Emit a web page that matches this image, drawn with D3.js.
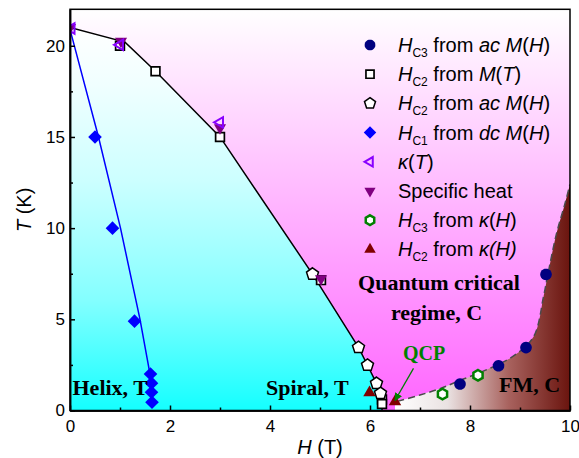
<!DOCTYPE html>
<html>
<head>
<meta charset="utf-8">
<script src="https://cdn.jsdelivr.net/npm/d3@7"></script>
<style>
body { margin: 0; background: #fff; }
</style>
</head>
<body>
<div id="chart"></div>
<script>
// data: [H (T), T (K)]
var hc3AcMH = [[7.8, 1.45], [8.57, 2.45], [9.12, 3.45], [9.52, 7.46]];
var hc2MT = [[1.0, 20.0], [1.71, 18.6], [3.0, 15.0], [5.02, 7.15], [6.24, 0.6], [6.24, 0.36]];
var hc2AcMH = [[4.85, 7.48], [5.77, 3.46], [5.95, 2.48], [6.13, 1.49], [6.21, 0.94]];
var hc1DcMH = [[0.5, 15.0], [0.85, 10.0], [1.29, 4.9], [1.61, 2.0], [1.63, 1.5], [1.63, 1.0], [1.64, 0.45]];
var kappaT = [[0.03, 20.95], [1.0, 20.05], [3.0, 15.8]];
var specHeat = [[0.0, 21.0], [1.02, 20.25], [3.0, 15.5], [5.02, 7.22]];
var hc3KappaH = [[7.45, 0.9], [8.16, 1.93]];
var hc2KappaH = [[5.99, 0.98], [6.5, 0.48]];

// phase boundaries
var tcLine = [[0, 21], [1.1, 20.2], [1.71, 18.6], [3.0, 15.0], [4.85, 7.48], [5.77, 3.46], [5.95, 2.48], [6.13, 1.49], [6.21, 0.94], [6.24, 0.5], [6.24, 0.0]];
var hc1Line = [[0, 20.9], [0.57, 15], [1.01, 10], [1.4, 5], [1.6, 2]];
var fmLine = [[6.55, 0.5], [7.0, 0.85], [7.4, 1.2], [7.8, 1.65], [8.3, 2.2], [8.85, 2.95], [9.27, 4.04], [9.47, 6.24], [9.56, 7.5], [9.73, 9.7], [9.9, 11.35], [10.0, 12.4]];

var xTicks = [0, 2, 4, 6, 8, 10];
var xMinor = [1, 3, 5, 7, 9];
var yTicks = [0, 5, 10, 15, 20];
var yMinor = [2.5, 7.5, 12.5, 17.5];

var legendLabels = [
  [["H", "i"], ["C3", "sub"], [" from ", ""], ["ac M", "i"], ["(", ""], ["H", "i"], [")", ""]],
  [["H", "i"], ["C2", "sub"], [" from ", ""], ["M", "i"], ["(", ""], ["T", "i"], [")", ""]],
  [["H", "i"], ["C2", "sub"], [" from ", ""], ["ac M", "i"], ["(", ""], ["H", "i"], [")", ""]],
  [["H", "i"], ["C1", "sub"], [" from ", ""], ["dc M", "i"], ["(", ""], ["H", "i"], [")", ""]],
  [["\u03ba", "i"], ["(", ""], ["T", "i"], [")", ""]],
  [["Specific heat", ""]],
  [["H", "i"], ["C3", "sub"], [" from ", ""], ["\u03ba", "i"], ["(", ""], ["H", "i"], [")", ""]],
  [["H", "i"], ["C2", "sub"], [" from ", ""], ["\u03ba(H)", "i"]]
];

var svgWidth = 579;
var svgHeight = 458;
var margin = { top: 9.3, right: 9, bottom: 47.5, left: 70 };

var svg = d3.select("#chart")
  .append("svg")
  .attr("width", svgWidth)
  .attr("height", svgHeight);

var x = d3.scaleLinear().domain([0, 10]).range([margin.left, svgWidth - margin.right]);
var y = d3.scaleLinear().domain([0, 22]).range([svgHeight - margin.bottom, margin.top]);

var defs = svg.append("defs");
defs.append("clipPath").attr("id", "plot")
  .append("rect")
  .attr("x", x(0)).attr("y", y(22))
  .attr("width", x(10) - x(0)).attr("height", y(0) - y(22));

function gradient(id, x1, y1, x2, y2, stops) {
  var g = defs.append("linearGradient").attr("id", id)
    .attr("gradientUnits", "userSpaceOnUse")
    .attr("x1", x1).attr("y1", y1).attr("x2", x2).attr("y2", y2);
  stops.forEach(function(s) {
    g.append("stop").attr("offset", s[0]).attr("stop-color", s[1]);
  });
}
gradient("pinkGrad", 0, y(22), 0, y(0), [[0, "#ffffff"], [1, "#ff66ff"]]);
gradient("cyanGrad", 0, y(21), 0, y(0), [[0, "#ffffff"], [0.15, "#f0ffff"], [0.4, "#ccffff"], [0.71, "#84ffff"], [1, "#14ffff"]]);
gradient("fmGrad", x(6.5), 0, x(10), 0, [[0, "#ffffff"], [0.3, "#eae2e2"], [0.65, "#a8625e"], [1, "#6a140e"]]);

defs.append("marker").attr("id", "arrow")
  .attr("viewBox", "0 0 10 10").attr("refX", 9).attr("refY", 5)
  .attr("markerWidth", 8).attr("markerHeight", 8).attr("markerUnits", "userSpaceOnUse")
  .attr("orient", "auto")
  .append("path").attr("d", "M0,0L10,5L0,10z").attr("fill", "#008000");

var plot = svg.append("g").attr("clip-path", "url(#plot)");

// backgrounds
plot.append("rect")
  .attr("x", x(0)).attr("y", y(22))
  .attr("width", x(10) - x(0)).attr("height", y(0) - y(22))
  .attr("fill", "url(#pinkGrad)");

var area = d3.line().x(d => x(d[0])).y(d => y(d[1]));
plot.append("path")
  .attr("d", area([[0, 0]].concat(tcLine)) + "Z")
  .attr("fill", "url(#cyanGrad)");

var fmCurve = d3.line().x(d => x(d[0])).y(d => y(d[1])).curve(d3.curveCatmullRom);
plot.append("path")
  .attr("d", fmCurve(fmLine) + "L" + x(10.2) + "," + y(12.4) + "L" + x(10.2) + "," + y(0) + "L" + x(6.5) + "," + y(0) + "L" + x(6.5) + "," + y(0.5) + "Z")
  .attr("fill", "url(#fmGrad)");

// labels inside the plot
var serif = "'Liberation Serif', 'Times New Roman', serif";
var regionLabels = [
  ["Helix, T", 0.05, 0.85, "start", "#000", 22],
  ["Spiral, T", 3.92, 0.85, "start", "#000", 22],
  ["Quantum critical", 7.38, 6.6, "middle", "#000", 22],
  ["regime, C", 7.33, 4.96, "middle", "#000", 22],
  ["FM, C", 8.58, 1.0, "start", "#000", 22],
  ["QCP", 6.66, 2.77, "start", "#008000", 20]
];
svg.selectAll(".region")
  .data(regionLabels)
  .enter()
  .append("text")
  .attr("class", "region")
  .attr("x", d => x(d[1]))
  .attr("y", d => y(d[2]))
  .attr("text-anchor", d => d[3])
  .attr("fill", d => d[4])
  .attr("font-family", serif)
  .attr("font-weight", "bold")
  .attr("font-size", d => d[5] + "px")
  .text(d => d[0]);

// lines
plot.append("path").attr("d", area(tcLine))
  .attr("fill", "none").attr("stroke", "#000").attr("stroke-width", 1.5);
plot.append("path").attr("d", area(hc1Line))
  .attr("fill", "none").attr("stroke", "#0000ff").attr("stroke-width", 1.5);
plot.append("path").attr("d", fmCurve(fmLine))
  .attr("fill", "none").attr("stroke", "#4a4a4a").attr("stroke-width", 1.5)
  .attr("stroke-dasharray", "7,4");

svg.append("line")
  .attr("x1", x(6.87)).attr("y1", y(2.31))
  .attr("x2", x(6.5)).attr("y2", y(0.55))
  .attr("stroke", "#008000").attr("stroke-width", 1.3)
  .attr("marker-end", "url(#arrow)");

// marker shapes
function regular(n, rot) {
  return {
    draw: function(ctx, size) {
      var r = Math.sqrt(size);
      for (var i = 0; i < n; i++) {
        var a = rot + i * 2 * Math.PI / n;
        var px = r * Math.sin(a), py = -r * Math.cos(a);
        if (i === 0) ctx.moveTo(px, py); else ctx.lineTo(px, py);
      }
      ctx.closePath();
    }
  };
}
var shapes = {
  circle: regular(24, 0),
  square: regular(4, Math.PI / 4),
  pentagon: regular(5, 0),
  diamond: regular(4, 0),
  left: regular(3, -Math.PI / 2),
  down: regular(3, Math.PI),
  hexagon: regular(6, 0),
  up: regular(3, 0)
};

var series = [
  { data: hc2MT, shape: "square", r: 6.2, fill: "#fff", stroke: "#000", sw: 1.7 },
  { data: hc2AcMH, shape: "pentagon", r: 6.3, fill: "#fff", stroke: "#000", sw: 1.5 },
  { data: hc1DcMH, shape: "diamond", r: 6.8, fill: "#0000ff", stroke: "none", sw: 0 },
  { data: specHeat, shape: "down", r: 7, fill: "#800080", stroke: "none", sw: 0 },
  { data: kappaT, shape: "left", r: 6, fill: "none", stroke: "#8800ff", sw: 2 },
  { data: hc3AcMH, shape: "circle", r: 5.8, fill: "#000080", stroke: "none", sw: 0 },
  { data: hc3KappaH, shape: "hexagon", r: 5.3, fill: "#fff", stroke: "#008000", sw: 2.5 },
  { data: hc2KappaH, shape: "up", r: 7.2, fill: "#800000", stroke: "none", sw: 0 }
];
// legend order matches the reference
var legendOrder = [5, 0, 1, 2, 4, 3, 6, 7];

series.forEach(function(s) {
  var sym = d3.symbol().type(shapes[s.shape]).size(s.r * s.r);
  plot.append("g").selectAll("path")
    .data(s.data)
    .enter()
    .append("path")
    .attr("transform", d => `translate(${x(d[0])}, ${y(d[1])})`)
    .attr("d", sym)
    .attr("fill", s.fill)
    .attr("stroke", s.stroke)
    .attr("stroke-width", s.sw);
});

// axes
var sans = "'Liberation Sans', Arial, sans-serif";
function styleAxis(g) {
  g.selectAll("path, line").attr("stroke", "#000").attr("stroke-width", 1.5);
  g.selectAll("text").attr("font-family", sans).attr("font-size", "17px").attr("fill", "#000");
}
svg.append("g")
  .attr("transform", `translate(0, ${y(0)})`)
  .call(d3.axisBottom(x).tickValues(xTicks).tickSizeInner(-5).tickSizeOuter(0).tickPadding(9))
  .call(styleAxis);
svg.append("g")
  .attr("transform", `translate(0, ${y(0)})`)
  .call(d3.axisBottom(x).tickValues(xMinor).tickSizeInner(-3).tickSizeOuter(0).tickFormat(""))
  .call(styleAxis);
svg.append("g")
  .attr("transform", `translate(${x(0)}, 0)`)
  .call(d3.axisLeft(y).tickValues(yTicks).tickSizeInner(-5).tickSizeOuter(0).tickPadding(5))
  .call(styleAxis);
svg.append("g")
  .attr("transform", `translate(${x(0)}, 0)`)
  .call(d3.axisLeft(y).tickValues(yMinor).tickSizeInner(-3).tickSizeOuter(0).tickFormat(""))
  .call(styleAxis);

svg.append("rect")
  .attr("x", x(0)).attr("y", y(22))
  .attr("width", x(10) - x(0)).attr("height", y(0) - y(22))
  .attr("fill", "none").attr("stroke", "#000").attr("stroke-width", 1.5);

// axis titles
var xTitle = svg.append("text")
  .attr("x", (x(0) + x(10)) / 2)
  .attr("y", 454)
  .attr("text-anchor", "middle")
  .attr("font-family", sans).attr("font-size", "20px");
xTitle.append("tspan").attr("font-style", "italic").text("H");
xTitle.append("tspan").text(" (T)");

var yTitle = svg.append("text")
  .attr("transform", `translate(31, ${(y(0) + y(22)) / 2}) rotate(-90)`)
  .attr("text-anchor", "middle")
  .attr("font-family", sans).attr("font-size", "20px");
yTitle.append("tspan").attr("font-style", "italic").text("T");
yTitle.append("tspan").text(" (K)");

// legend
legendOrder.forEach(function(si, i) {
  var s = series[si];
  var ly = 45 + i * 29.2;
  var sym = d3.symbol().type(shapes[s.shape]).size(s.r * s.r * 0.85);
  svg.append("path")
    .attr("transform", `translate(370, ${ly})`)
    .attr("d", sym)
    .attr("fill", s.fill)
    .attr("stroke", s.stroke)
    .attr("stroke-width", s.sw);
  var t = svg.append("text")
    .attr("x", 398).attr("y", ly + 7)
    .attr("font-family", sans).attr("font-size", "20px").attr("fill", "#000");
  var shifted = false;
  legendLabels[i].forEach(function(p) {
    var ts = t.append("tspan").text(p[0]);
    if (p[1] === "i") ts.attr("font-style", "italic");
    if (p[1] === "sub") {
      ts.attr("font-size", "12px").attr("dy", 5);
      shifted = true;
    } else if (shifted) {
      ts.attr("dy", -5);
      shifted = false;
    }
  });
});
</script>
</body>
</html>
